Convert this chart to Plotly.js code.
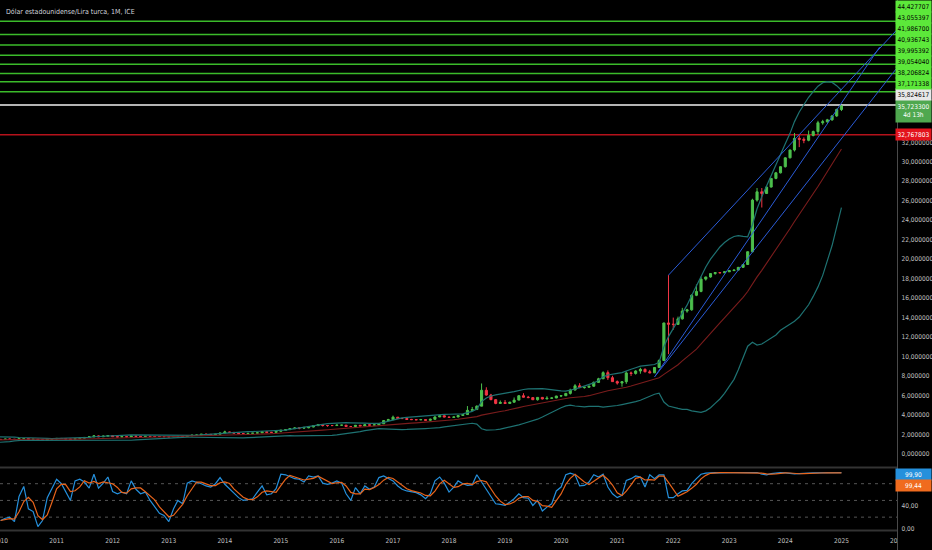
<!DOCTYPE html>
<html>
<head>
<meta charset="utf-8">
<script src="https://cdn.plot.ly/plotly-3.0.1.min.js"></script>
<style>html,body{margin:0;padding:0;background:#000;}#chart{width:932px;height:550px;}</style>
</head>
<body>
<div id="chart"></div>
<script>
// ---------------- DATA (monthly USD/TRY, from Jan 2007) ----------------
const startYear = 2007;
const titleText = 'Dólar estadounidense/Lira turca, 1M, ICE';
const openP = [
1.41,1.42,1.40,1.39,1.35,1.32,1.31,1.28,1.32,1.21,1.19,1.20,
1.16,1.19,1.20,1.33,1.29,1.23,1.22,1.17,1.19,1.24,1.62,1.58,
1.54,1.67,1.73,1.66,1.59,1.55,1.54,1.48,1.49,1.48,1.47,1.50,
1.50,1.49,1.53,1.52,1.49,1.58,1.58,1.51,1.52,1.45,1.42,1.51,
1.54,1.60,1.59,1.54,1.51,1.58,1.62,1.70,1.76,1.86,1.77,1.83,
1.89,1.78,1.75,1.78,1.76,1.85,1.81,1.79,1.82,1.79,1.79,1.79,
1.78,1.76,1.80,1.81,1.79,1.87,1.93,1.94,2.03,2.02,1.99,2.03,
2.15,2.26,2.22,2.14,2.10,2.09,2.12,2.14,2.17,2.28,2.22,2.22,
2.33,2.44,2.50,2.60,2.67,2.66,2.69,2.77,2.91,3.03,2.92,2.92,
2.92,2.96,2.96,2.82,2.82,2.95,2.88,3.00,2.96,2.99,3.10,3.43,
3.52,3.78,3.64,3.64,3.55,3.53,3.51,3.53,3.46,3.56,3.80,3.93,
3.79,3.76,3.80,3.95,4.05,4.48,4.56,4.91,6.54,6.05,5.58,5.19,
5.29,5.18,5.32,5.53,5.98,5.83,5.79,5.57,5.81,5.65,5.72,5.75,
5.95,5.98,6.22,6.56,7.00,6.81,6.85,6.96,7.35,7.72,8.35,7.83,
7.43,7.28,7.42,8.32,8.27,8.52,8.69,8.44,8.33,8.88,9.59,13.45,
13.32,13.30,13.87,14.67,14.80,16.29,16.69,17.95,18.17,18.52,18.62,18.60,
18.70,18.82,18.88,19.16,19.45,20.76,26.06,26.91,26.74,27.40,28.29,28.86,
29.49,30.40,31.20,32.40,32.30,32.20,32.70,33.10,34.00,34.10,34.30,34.70,
35.36];
const highP = [
1.44,1.43,1.46,1.40,1.36,1.35,1.33,1.40,1.33,1.22,1.24,1.21,
1.21,1.22,1.35,1.34,1.30,1.26,1.23,1.22,1.27,1.77,1.66,1.62,
1.69,1.80,1.80,1.68,1.62,1.59,1.56,1.52,1.51,1.50,1.53,1.53,
1.52,1.56,1.56,1.53,1.61,1.62,1.59,1.54,1.53,1.46,1.52,1.57,
1.62,1.62,1.64,1.55,1.62,1.65,1.72,1.82,1.89,1.91,1.90,1.93,
1.90,1.79,1.80,1.80,1.87,1.86,1.83,1.83,1.83,1.81,1.81,1.80,
1.79,1.81,1.83,1.82,1.88,1.97,1.97,2.05,2.06,2.03,2.04,2.18,
2.39,2.27,2.26,2.16,2.12,2.14,2.16,2.20,2.29,2.30,2.26,2.40,
2.45,2.53,2.67,2.74,2.70,2.81,2.81,2.97,3.08,3.05,2.96,2.98,
3.04,2.99,2.97,2.88,2.98,2.96,3.08,3.02,3.03,3.13,3.48,3.61,
3.94,3.80,3.72,3.74,3.60,3.57,3.60,3.56,3.63,3.88,3.99,3.95,
3.82,3.83,3.97,4.11,4.92,4.83,4.99,7.24,6.85,6.17,5.61,5.49,
5.54,5.36,5.80,6.05,6.24,5.96,5.80,5.84,5.82,5.93,5.79,5.97,
6.00,6.27,6.70,7.17,7.27,6.88,6.99,7.44,7.82,8.49,8.58,8.03,
7.55,7.47,8.47,8.46,8.60,8.85,8.79,8.63,8.92,9.72,13.47,18.36,
14.00,14.10,15.00,14.90,16.40,17.40,18.20,18.20,18.54,18.66,18.65,18.74,
18.85,18.90,19.20,19.50,20.80,26.20,27.30,27.30,27.50,28.30,28.95,29.55,
30.45,31.25,32.95,32.70,32.50,33.20,33.20,34.20,34.30,34.40,34.80,35.45,
35.80];
const lowP = [
1.40,1.38,1.38,1.33,1.30,1.29,1.26,1.27,1.20,1.17,1.16,1.15,
1.15,1.17,1.19,1.25,1.21,1.20,1.15,1.16,1.17,1.23,1.50,1.50,
1.50,1.64,1.64,1.57,1.53,1.51,1.47,1.46,1.45,1.43,1.45,1.47,
1.45,1.48,1.50,1.46,1.48,1.55,1.50,1.48,1.44,1.40,1.41,1.49,
1.52,1.57,1.53,1.49,1.50,1.55,1.60,1.66,1.73,1.74,1.76,1.81,
1.77,1.73,1.74,1.74,1.75,1.79,1.78,1.78,1.77,1.78,1.77,1.76,
1.75,1.75,1.79,1.78,1.78,1.86,1.90,1.92,1.98,1.96,1.98,2.01,
2.13,2.17,2.13,2.08,2.05,2.07,2.10,2.13,2.16,2.20,2.18,2.21,
2.24,2.39,2.48,2.57,2.54,2.62,2.64,2.74,2.90,2.82,2.80,2.87,
2.90,2.90,2.82,2.78,2.80,2.86,2.87,2.90,2.93,2.99,3.09,3.40,
3.51,3.60,3.58,3.53,3.50,3.49,3.51,3.45,3.40,3.54,3.80,3.78,
3.71,3.74,3.77,3.94,4.03,4.45,4.55,4.91,5.99,5.52,5.11,5.15,
5.15,5.17,5.26,5.52,5.80,5.73,5.55,5.48,5.60,5.63,5.66,5.73,
5.84,5.96,6.10,6.54,6.77,6.71,6.83,6.90,7.31,7.70,7.60,7.40,
7.12,6.91,7.20,8.00,8.15,8.24,8.38,8.30,8.30,8.86,9.56,10.25,
12.75,13.28,13.80,14.50,14.70,16.20,16.60,17.80,18.10,18.40,18.55,18.58,
18.70,18.80,18.85,19.10,19.40,20.70,25.90,25.30,26.70,27.35,28.20,28.80,
29.40,30.35,31.05,31.50,31.90,32.10,32.60,32.80,33.80,34.00,34.20,34.60,
35.20];
const closeP = [
1.42,1.40,1.39,1.35,1.32,1.31,1.28,1.32,1.21,1.19,1.20,1.16,
1.19,1.20,1.33,1.29,1.23,1.22,1.17,1.19,1.24,1.62,1.58,1.54,
1.67,1.73,1.66,1.59,1.55,1.54,1.48,1.49,1.48,1.47,1.50,1.50,
1.49,1.53,1.52,1.49,1.58,1.58,1.51,1.52,1.45,1.42,1.51,1.54,
1.60,1.59,1.54,1.51,1.58,1.62,1.70,1.76,1.86,1.77,1.83,1.89,
1.78,1.75,1.78,1.76,1.85,1.81,1.79,1.82,1.79,1.79,1.79,1.78,
1.76,1.80,1.81,1.79,1.87,1.93,1.94,2.03,2.02,1.99,2.03,2.15,
2.26,2.22,2.14,2.10,2.09,2.12,2.14,2.17,2.28,2.22,2.22,2.33,
2.44,2.50,2.60,2.67,2.66,2.69,2.77,2.91,3.03,2.92,2.92,2.92,
2.96,2.96,2.82,2.82,2.95,2.88,3.00,2.96,2.99,3.10,3.43,3.52,
3.78,3.64,3.64,3.55,3.53,3.51,3.53,3.46,3.56,3.80,3.93,3.79,
3.76,3.80,3.95,4.05,4.48,4.56,4.91,6.54,6.05,5.58,5.19,5.29,
5.18,5.32,5.53,5.98,5.83,5.79,5.57,5.81,5.65,5.72,5.75,5.95,
5.98,6.22,6.56,7.00,6.81,6.85,6.96,7.35,7.72,8.35,7.83,7.43,
7.28,7.42,8.32,8.27,8.52,8.69,8.44,8.33,8.88,9.59,13.45,13.32,
13.30,13.87,14.67,14.80,16.29,16.69,17.95,18.17,18.52,18.62,18.60,18.70,
18.82,18.88,19.16,19.45,20.76,26.06,26.91,26.74,27.40,28.29,28.86,29.49,
30.40,31.20,32.40,32.30,32.20,32.70,33.10,34.00,34.10,34.30,34.70,35.36,
35.7233];

// Stochastic RSI %K (Jan 2010 .. Jan 2025)
const oscStart = '2010-01-01';
const stochK = [
14,18,20,12,57,75,35,30,3,14,55,70,
88,80,67,50,85,88,83,72,97,72,81,92,
66,62,65,62,85,70,62,65,50,38,27,23,
12,35,50,44,81,85,83,80,76,74,80,91,
79,71,62,55,50,51,53,65,76,60,62,71,
97,96,92,89,88,83,94,92,94,81,79,81,
85,81,62,50,73,62,76,70,74,91,94,89,
85,76,70,67,66,64,60,53,62,85,92,81,
65,74,85,80,77,78,96,83,71,59,44,43,
41,47,53,62,55,54,41,50,31,38,44,67,
74,96,99,96,76,77,83,96,92,97,74,62,
55,59,86,89,94,92,74,96,89,96,96,55,
55,62,67,68,80,89,97,99,100,100,99.5,100,
100,99.8,100,100,100,99.5,100,97,96,98,99,100,
99.5,98,97.5,98,99,99,99.5,99.5,99.6,99.7,99.0,99.4,
99.9];

// horizontal levels drawn on the chart
const greenLevels = [44.427707, 43.055397, 41.986700, 40.936743, 39.995392, 39.054040, 38.206824, 37.171338];
const whiteLevel = 35.824617;
const redLevel = 32.767803;
const countdownText = '4d 13h';

// trend lines (anchor points)
const trendA_x = ['2021-12-01', '2026-01-01'];
const trendA_y = [18.36, 43.6];
const trendB_x = ['2021-09-02', '2025-09-07'];
const trendB_y = [7.93, 41.77];
const trendC_x = ['2021-09-02', '2026-01-01'];
const trendC_y = [7.93, 39.7];

// last oscillator readings shown in the scale
const lastK = 99.90;
const lastD = 99.44;

// ---------------- helpers ----------------
function monthSeq(y0, m0, n) {
  const out = [];
  for (let i = 0; i < n; i++) {
    const t = m0 - 1 + i;
    out.push((y0 + Math.floor(t / 12)) + '-' + String((t % 12) + 1).padStart(2, '0') + '-01');
  }
  return out;
}
const dates = monthSeq(startYear, 1, openP.length);
const oscDates = monthSeq(+oscStart.slice(0, 4), +oscStart.slice(5, 7), stochK.length);
function sma(src, n) {
  return src.map((v, i) => {
    if (i < n - 1) return null;
    let s = 0;
    for (let j = i - n + 1; j <= i; j++) s += src[j];
    return s / n;
  });
}
function smaPartial(src, n) {
  return src.map((v, i) => {
    const a = Math.max(0, i - n + 1);
    let s = 0;
    for (let j = a; j <= i; j++) s += src[j];
    return s / (i - a + 1);
  });
}
function stdev(src, n) {
  const m = sma(src, n);
  return src.map((v, i) => {
    if (m[i] === null) return null;
    let s = 0;
    for (let j = i - n + 1; j <= i; j++) s += (src[j] - m[i]) ** 2;
    return Math.sqrt(s / n);
  });
}
const basis = sma(closeP, 20);
const dev = stdev(closeP, 20);
const bbUpper = basis.map((b, i) => b === null ? null : b + 2 * dev[i]);
const bbLower = basis.map((b, i) => b === null ? null : b - 2 * dev[i]);
const stochD = smaPartial(stochK, 3);

// ---------------- geometry ----------------
const W = 932, Hh = 550;
const XR = 897.5 / W;
const priceTopPx = 0, priceBotPx = 466;
const oscTopPx = 469, oscBotPx = 530;
const Y1 = 46.60, Y0 = -1.232;
const O1 = 106.37, O0 = -3.05;
const pPrice = v => priceTopPx + (Y1 - v) / (Y1 - Y0) * (priceBotPx - priceTopPx);
const pOsc = v => oscTopPx + (O1 - v) / (O1 - O0) * (oscBotPx - oscTopPx);
const fmt = (v, d) => v.toFixed(d).replace('.', ',');
const FONT = "'Liberation Sans Narrow', 'DejaVu Sans Condensed', 'Arial Narrow', sans-serif";
const tickCol = '#c0c0c0';
const FS = 6.5;

// ---------------- traces ----------------
const traces = [
  {type: 'scatter', mode: 'lines', x: dates, y: bbUpper, line: {color: '#1e7272', width: 1.2}, hoverinfo: 'skip'},
  {type: 'scatter', mode: 'lines', x: dates, y: bbLower, line: {color: '#1e7272', width: 1.2}, hoverinfo: 'skip'},
  {type: 'scatter', mode: 'lines', x: dates, y: basis, line: {color: '#7a1c1c', width: 1.1}, hoverinfo: 'skip'},
  {type: 'scatter', mode: 'lines', x: trendA_x, y: trendA_y, line: {color: '#2a5bd7', width: 1}, hoverinfo: 'skip'},
  {type: 'scatter', mode: 'lines', x: trendB_x, y: trendB_y, line: {color: '#2a5bd7', width: 1}, hoverinfo: 'skip'},
  {type: 'scatter', mode: 'lines', x: trendC_x, y: trendC_y, line: {color: '#2a5bd7', width: 1}, hoverinfo: 'skip'},
  {type: 'candlestick', x: dates, open: openP, high: highP, low: lowP, close: closeP,
   increasing: {line: {color: '#4cbf4c', width: 1}, fillcolor: '#4cbf4c'},
   decreasing: {line: {color: '#f23645', width: 1}, fillcolor: '#f23645'},
   whiskerwidth: 0, hoverinfo: 'skip'},
  {type: 'scatter', mode: 'lines', x: oscDates, y: stochK, yaxis: 'y2', line: {color: '#2590dc', width: 1.2}, hoverinfo: 'skip'},
  {type: 'scatter', mode: 'lines', x: oscDates, y: stochD, yaxis: 'y2', line: {color: '#e8641b', width: 1.2}, hoverinfo: 'skip'}
];

// ---------------- shapes ----------------
const shapes = [];
greenLevels.forEach(v => shapes.push({type: 'line', xref: 'paper', x0: 0, x1: XR, yref: 'y', y0: v, y1: v, line: {color: '#3bbb2a', width: 1.5}, layer: 'below'}));
shapes.push({type: 'line', xref: 'paper', x0: 0, x1: XR, yref: 'y', y0: whiteLevel, y1: whiteLevel, line: {color: '#b4b4b4', width: 2}, layer: 'below'});
shapes.push({type: 'line', xref: 'paper', x0: 0, x1: XR, yref: 'y', y0: redLevel, y1: redLevel, line: {color: '#b5121b', width: 1.5}, layer: 'below'});
[80, 50, 20].forEach(v => shapes.push({type: 'line', xref: 'paper', x0: 0, x1: XR, yref: 'y2', y0: v, y1: v, line: {color: '#555', width: 1, dash: '3px,4px'}, layer: 'below'}));
[467.5, 530.5].forEach(py => shapes.push({type: 'line', xref: 'paper', x0: 0, x1: XR, yref: 'paper', y0: 1 - py / Hh, y1: 1 - py / Hh, line: {color: '#333', width: 2}}));
shapes.push({type: 'rect', xref: 'paper', x0: XR, x1: 1, yref: 'paper', y0: 0, y1: 1 - 532 / Hh, fillcolor: '#000', line: {width: 0}});
shapes.push({type: 'line', xref: 'paper', x0: XR, x1: XR, yref: 'paper', y0: 0, y1: 1, line: {color: '#4a4a4a', width: 1}});

// ---------------- scale labels (stacked like the trading platform) ----------------
const LH = 11;
const priceLabels = [
  {v: redLevel, text: fmt(redLevel, 6), bg: '#e3141c', fg: '#ffffff', rows: 1},
  {v: closeP[closeP.length - 1], text: fmt(closeP[closeP.length - 1], 6) + '<br>' + countdownText, bg: '#4fa84f', fg: '#ffffff', rows: 2},
  {v: whiteLevel, text: fmt(whiteLevel, 6), bg: '#e8e8e8', fg: '#000000', rows: 1}
].concat(greenLevels.slice().sort((a, b) => a - b).map(v => ({v: v, text: fmt(v, 6), bg: '#5ce83a', fg: '#000000', rows: 1})));
let prevTop = Infinity;
priceLabels.forEach(L => {
  let top = pPrice(L.v) - LH / 2;
  if (top + L.rows * LH > prevTop) top = prevTop - L.rows * LH;
  L.top = top; prevTop = top;
});
const annotations = priceLabels.map(L => ({
  xref: 'paper', x: 1, xanchor: 'right', yref: 'y', y: L.v, yanchor: 'middle',
  yshift: pPrice(L.v) - (L.top + L.rows * LH / 2),
  text: L.text, showarrow: false, bgcolor: L.bg, font: {color: L.fg, size: FS, family: FONT},
  width: 33, height: L.rows * LH - 2, borderpad: 1, align: 'center', valign: 'middle'
}));
const oscLabels = [
  {v: lastK, bg: '#2590dc'},
  {v: lastD, bg: '#f06b1e'}
];
let prevBottom = oscTopPx;
oscLabels.forEach(L => {
  let top = pOsc(L.v) - LH / 2;
  if (top < prevBottom) top = prevBottom;
  prevBottom = top + LH;
  annotations.push({
    xref: 'paper', x: 1, xanchor: 'right', yref: 'y2', y: L.v, yanchor: 'middle',
    yshift: pOsc(L.v) - (top + LH / 2), text: fmt(L.v, 2), showarrow: false, bgcolor: L.bg,
    font: {color: '#ffffff', size: FS, family: FONT}, width: 33, height: LH - 2, borderpad: 1, align: 'center', valign: 'middle'
  });
});
annotations.push({xref: 'paper', yref: 'paper', x: 4 / W, y: 1 - 12 / Hh, xanchor: 'left', yanchor: 'middle',
  text: titleText, showarrow: false, font: {color: '#d1d4dc', size: 7, family: FONT}});

const priceTicks = [];
for (let v = 0; v <= 32; v += 2) priceTicks.push(v);
const oscTicks = [0, 40];

const layout = {
  width: W, height: Hh, margin: {l: 0, r: 0, t: 0, b: 0},
  paper_bgcolor: '#000', plot_bgcolor: '#000', separators: ', ', showlegend: false, dragmode: false,
  font: {family: FONT, color: tickCol, size: FS},
  xaxis: {domain: [0, XR], type: 'date', range: ['2009-12-28', '2026-01-01 06:00'], anchor: 'y2',
    showgrid: false, zeroline: false, showline: false, ticks: '', dtick: 'M12', tick0: '2010-01-01',
    tickformat: '%Y', ticklabeloverflow: 'allow', tickfont: {size: FS, color: tickCol, family: FONT},
    ticklabelstandoff: 5, rangeslider: {visible: false}},
  yaxis: {domain: [1 - priceBotPx / Hh, 1 - priceTopPx / Hh], range: [Y0, Y1], side: 'right', anchor: 'x',
    showgrid: false, zeroline: false, showline: false, ticks: '', tickvals: priceTicks, tickformat: '.6f',
    tickfont: {size: FS, color: tickCol, family: FONT}, ticklabelstandoff: 3},
  yaxis2: {domain: [1 - oscBotPx / Hh, 1 - oscTopPx / Hh], range: [O0, O1], side: 'right', anchor: 'x',
    showgrid: false, zeroline: false, showline: false, ticks: '', tickvals: oscTicks, tickformat: '.2f',
    tickfont: {size: FS, color: tickCol, family: FONT}, ticklabelstandoff: 3},
  shapes: shapes,
  annotations: annotations
};
Plotly.newPlot('chart', traces, layout, {staticPlot: true, displayModeBar: false});
</script>
</body>
</html>
